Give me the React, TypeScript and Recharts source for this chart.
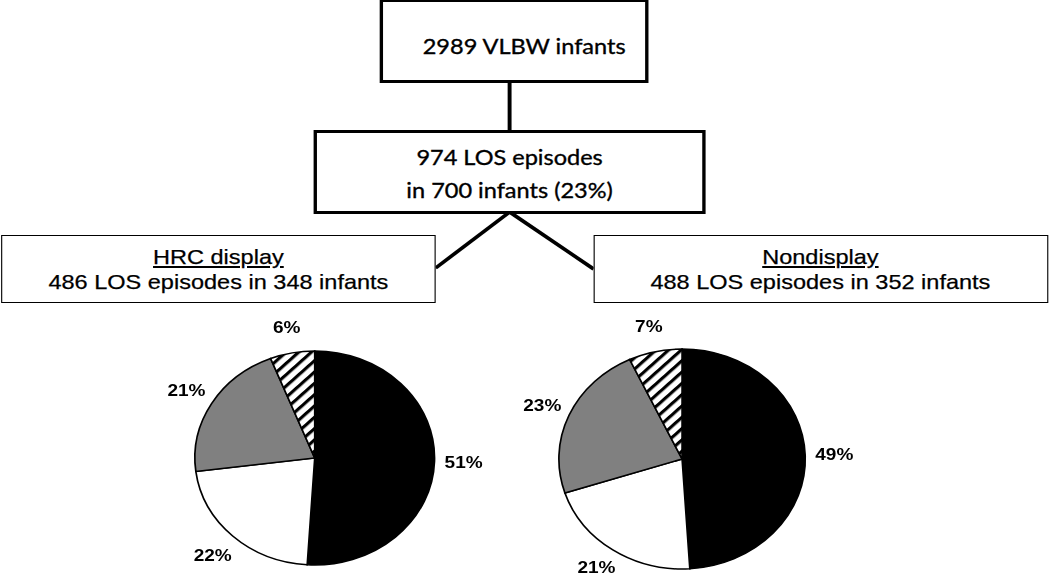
import { Cell, Pie, PieChart } from "recharts";

// slice order, clockwise from 12 o'clock
const sliceNames = ["Group A", "Group B", "Group C", "Group D"];
const sliceFills = ["#000000", "#ffffff", "#808080", "url(#hatch)"];

const hrcValues = [51, 22, 21, 6];
const nondisplayValues = [49, 21, 23, 7];

const topBoxText = "2989 VLBW infants";
const midBoxLines = ["974 LOS episodes", "in 700 infants (23%)"];
const leftBoxLines = ["HRC display", "486 LOS episodes in 348 infants"];
const rightBoxLines = ["Nondisplay", "488 LOS episodes in 352 infants"];

// the source figure is stretched horizontally; draw unstretched then scale
const STRETCH = 1.12;
const FRAME_W = 1050 / STRETCH;
const PIE_H = 279;

const hrcData = sliceNames.map((name, i) => ({ name, value: hrcValues[i] }));
const nondisplayData = sliceNames.map((name, i) => ({
  name,
  value: nondisplayValues[i],
}));

const RADIAN = Math.PI / 180;

const renderLabel = (p: any) => {
  const r = p.outerRadius + 26;
  const x = p.cx + r * Math.cos(-p.midAngle * RADIAN);
  // keep the bottom label inside the frame
  const y = Math.min(p.cy + r * Math.sin(-p.midAngle * RADIAN), PIE_H - 12);
  return (
    <text
      x={x}
      y={y}
      textAnchor="middle"
      dominantBaseline="central"
      fontFamily="'Liberation Sans', Arial, sans-serif"
      fontWeight="bold"
      fontSize={17}
      fill="#000"
    >
      {p.value}%
    </text>
  );
};

const calibri = "Lato, 'Open Sans', sans-serif";
const arial = "'Liberation Sans', Arial, sans-serif";

const App = () => {
  return (
    <div
      style={{
        position: "absolute",
        left: 0,
        top: 0,
        width: 1050,
        height: 579,
        overflow: "hidden",
        background: "#fff",
      }}
    >
      <svg width={0} height={0} style={{ position: "absolute" }}>
        <defs>
          <pattern
            id="hatch"
            patternUnits="userSpaceOnUse"
            width={8}
            height={8}
            patternTransform="rotate(45)"
          >
            <rect width={8} height={8} fill="#fff" />
            <rect width={3} height={8} fill="#000" />
          </pattern>
        </defs>
      </svg>

      <div
        style={{
          position: "relative",
          width: FRAME_W,
          height: 579,
          transform: `scaleX(${STRETCH})`,
          transformOrigin: "0 0",
        }}
      >
        {/* connectors */}
        <svg
          width={FRAME_W}
          height={320}
          style={{ position: "absolute", left: 0, top: 0 }}
        >
          <line x1={455} y1={82} x2={455} y2={131} stroke="#000" strokeWidth={3.5} />
          <line x1={455} y1={212} x2={389} y2={268} stroke="#000" strokeWidth={3.5} />
          <line x1={455} y1={212} x2={530} y2={269} stroke="#000" strokeWidth={3.5} />
        </svg>

        {/* top box */}
        <div
          style={{
            position: "absolute",
            left: 339,
            top: -1,
            width: 240,
            height: 84,
            boxSizing: "border-box",
            border: "3.5px solid #000",
            background: "#fff",
            display: "flex",
            alignItems: "center",
            justifyContent: "center",
            paddingLeft: 18,
            paddingTop: 8,
            fontFamily: calibri,
            fontSize: 21,
            color: "#000",
            WebkitTextStroke: "0.35px #000",
          }}
        >
          {topBoxText}
        </div>

        {/* middle box */}
        <div
          style={{
            position: "absolute",
            left: 280,
            top: 130,
            width: 350,
            height: 84,
            boxSizing: "border-box",
            border: "3.5px solid #000",
            background: "#fff",
            display: "flex",
            flexDirection: "column",
            alignItems: "center",
            justifyContent: "center",
            paddingTop: 2,
            fontFamily: calibri,
            fontSize: 21,
            lineHeight: "33px",
            color: "#000",
            WebkitTextStroke: "0.35px #000",
          }}
        >
          {midBoxLines.map((l) => (
            <div key={l}>{l}</div>
          ))}
        </div>

        {/* group boxes */}
        {[
          { lines: leftBoxLines, left: 1, width: 388 },
          { lines: rightBoxLines, left: 529.5, width: 406 },
        ].map((b) => (
          <div
            key={b.lines[0]}
            style={{
              position: "absolute",
              left: b.left,
              top: 235,
              width: b.width,
              height: 68,
              boxSizing: "border-box",
              border: "1.5px solid #000",
              background: "#fff",
              display: "flex",
              flexDirection: "column",
              alignItems: "center",
              justifyContent: "center",
              fontFamily: arial,
              fontSize: 21,
              lineHeight: "25px",
              color: "#000",
              WebkitTextStroke: "0.25px #000",
            }}
          >
            <div style={{ textDecoration: "underline" }}>{b.lines[0]}</div>
            <div>{b.lines[1]}</div>
          </div>
        ))}

        {/* pies */}
        <div style={{ position: "absolute", left: 0, top: 300 }}>
          <PieChart
            width={FRAME_W}
            height={PIE_H}
            margin={{ top: 0, right: 0, bottom: 0, left: 0 }}
          >
            <Pie
              data={hrcData}
              dataKey="value"
              nameKey="name"
              cx={281}
              cy={158}
              outerRadius={107}
              startAngle={90}
              endAngle={-270}
              stroke="#000"
              strokeWidth={1.5}
              label={renderLabel}
              labelLine={false}
              isAnimationActive={false}
            >
              {hrcData.map((d, i) => (
                <Cell key={d.name} fill={sliceFills[i]} />
              ))}
            </Pie>
            <Pie
              data={nondisplayData}
              dataKey="value"
              nameKey="name"
              cx={609}
              cy={159}
              outerRadius={110}
              startAngle={90}
              endAngle={-270}
              stroke="#000"
              strokeWidth={1.5}
              label={renderLabel}
              labelLine={false}
              isAnimationActive={false}
            >
              {nondisplayData.map((d, i) => (
                <Cell key={d.name} fill={sliceFills[i]} />
              ))}
            </Pie>
          </PieChart>
        </div>
      </div>
    </div>
  );
};

export default App;
